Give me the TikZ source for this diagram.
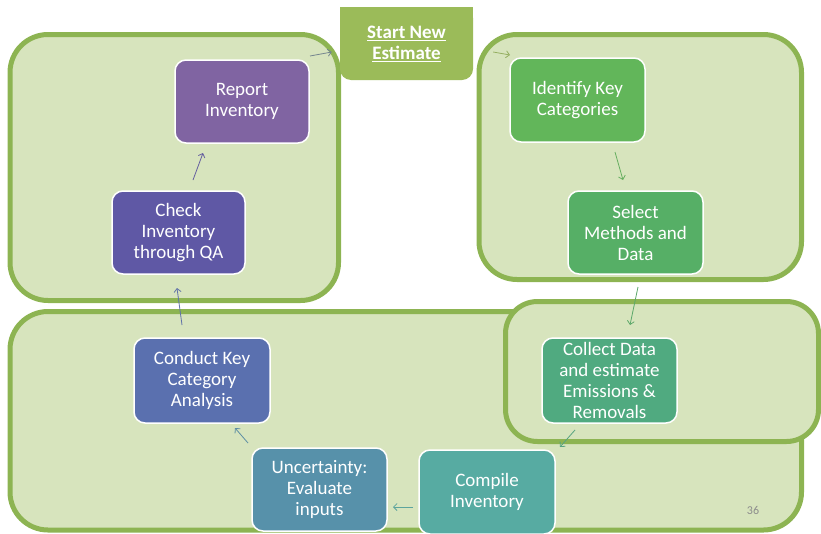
\documentclass[tikz,border=0pt]{standalone}
\usepackage{fontspec}
\setmainfont{Carlito}
\usetikzlibrary{arrows.meta}
\definecolor{contfill}{HTML}{D7E4BD}
\definecolor{contdraw}{HTML}{8DB452}
\definecolor{startgreen}{HTML}{9BBB59}
\definecolor{cReport}{HTML}{8064A2}
\definecolor{cCheck}{HTML}{5F58A5}
\definecolor{cConduct}{HTML}{5A70AF}
\definecolor{cUncert}{HTML}{5791AA}
\definecolor{cCompile}{HTML}{57ABA2}
\definecolor{cCollect}{HTML}{50AA80}
\definecolor{cSelect}{HTML}{56AF66}
\definecolor{cIdent}{HTML}{62B65A}
\tikzset{
  container/.style={draw=contdraw, fill=contfill, line width=5pt, rounded corners=38pt},
  stepbox/.style={draw=white, line width=1.5pt, rounded corners=11pt, text=white, align=center,
    font=\fontsize{19}{21}\selectfont, inner sep=0pt, outer sep=0pt},
  arr/.style={line width=0.8pt, -{Straight Barb[length=3.5pt,width=7pt]}},
}
\begin{document}
\begin{tikzpicture}[x=1pt,y=-1pt]
\useasboundingbox (0,0) rectangle (821,533);
% containers
\draw[container] (10,34.5) rectangle (338.5,300.5);
\draw[container] (479,34.5) rectangle (801.5,279.5);
\draw[container] (10,311.5) rectangle (801.5,530);
\draw[container, rounded corners=32pt] (505.5,301.5) rectangle (818.5,441.5);
% start box
\node[fill=startgreen, rounded corners=11pt, minimum width=133pt, minimum height=73pt, inner sep=0pt] (start) at (406.5,43.5) {};
\fill[startgreen] (start.north west) rectangle ([shift={(0,15)}]start.north east);
\node[text=white, align=center, font=\bfseries\fontsize{19}{21}\selectfont] (starttext) at (start.center) {\underline{Start New}\\\underline{Estimate}};
% steps
\node[stepbox, fill=cReport, minimum width=134pt, minimum height=83pt] (report) at (242,101.5) {Report\\Inventory};
\node[stepbox, fill=cCheck, minimum width=133pt, minimum height=83pt] (check) at (178.5,232.5) {Check\\Inventory\\through QA};
\node[stepbox, fill=cIdent, minimum width=135pt, minimum height=84pt] (ident) at (577.5,100) {Identify Key\\Categories};
\node[stepbox, fill=cSelect, minimum width=135pt, minimum height=83pt] (select) at (635.5,232.5) {Select\\Methods and\\Data};
\node[stepbox, fill=cCollect, minimum width=135pt, minimum height=85pt] (collect) at (609.5,380.5) {Collect Data\\and estimate\\Emissions \&\\Removals};
\node[stepbox, fill=cCompile, minimum width=136pt, minimum height=84pt] (compile) at (487,492) {Compile\\Inventory};
\node[stepbox, fill=cUncert, minimum width=135pt, minimum height=83pt] (uncert) at (319.5,489.5) {Uncertainty:\\Evaluate\\inputs};
\node[stepbox, fill=cConduct, minimum width=136pt, minimum height=85pt] (conduct) at (202,380.5) {Conduct Key\\Category\\Analysis};
% page number
\node[text=black!45, font=\fontsize{12}{14}\selectfont] (pagenum) at (753,510) {36};
% arrows
\draw[arr, draw=black!50!cyan!40!gray] ([shift={(1,-4)}]report.north east) -- ([shift={(-8,8.5)}]start.west);
\draw[arr, draw=startgreen!80!gray] ([shift={(20,8.5)}]start.east) -- ([shift={(0,-3)}]ident.north west);
\draw[arr, draw=cIdent!85!gray] ([shift={(37.5,10)}]ident.south) -- ([shift={(-12.5,-11)}]select.north);
\draw[arr, draw=cSelect!85!gray] ([shift={(2.5,13)}]select.south) -- ([shift={(20.5,-13)}]collect.north);
\draw[arr, draw=cCollect!85!gray] ([shift={(-34.5,7)}]collect.south) -- ([shift={(5,-3)}]compile.north east);
\draw[arr, draw=cCompile!85!gray] ([shift={(-6,15)}]compile.west) -- ([shift={(6,17.5)}]uncert.east);
\draw[arr, draw=cUncert!85!gray] ([shift={(-4,-5)}]uncert.north west) -- ([shift={(-35,5)}]conduct.south east);
\draw[arr, draw=cConduct!85!gray] ([shift={(-20,-13)}]conduct.north) -- ([shift={(-1.5,14)}]check.south);
\draw[arr, draw=cCheck!85!gray] ([shift={(14.5,-11)}]check.north) -- ([shift={(-39,10)}]report.south);
\end{tikzpicture}
\end{document}
